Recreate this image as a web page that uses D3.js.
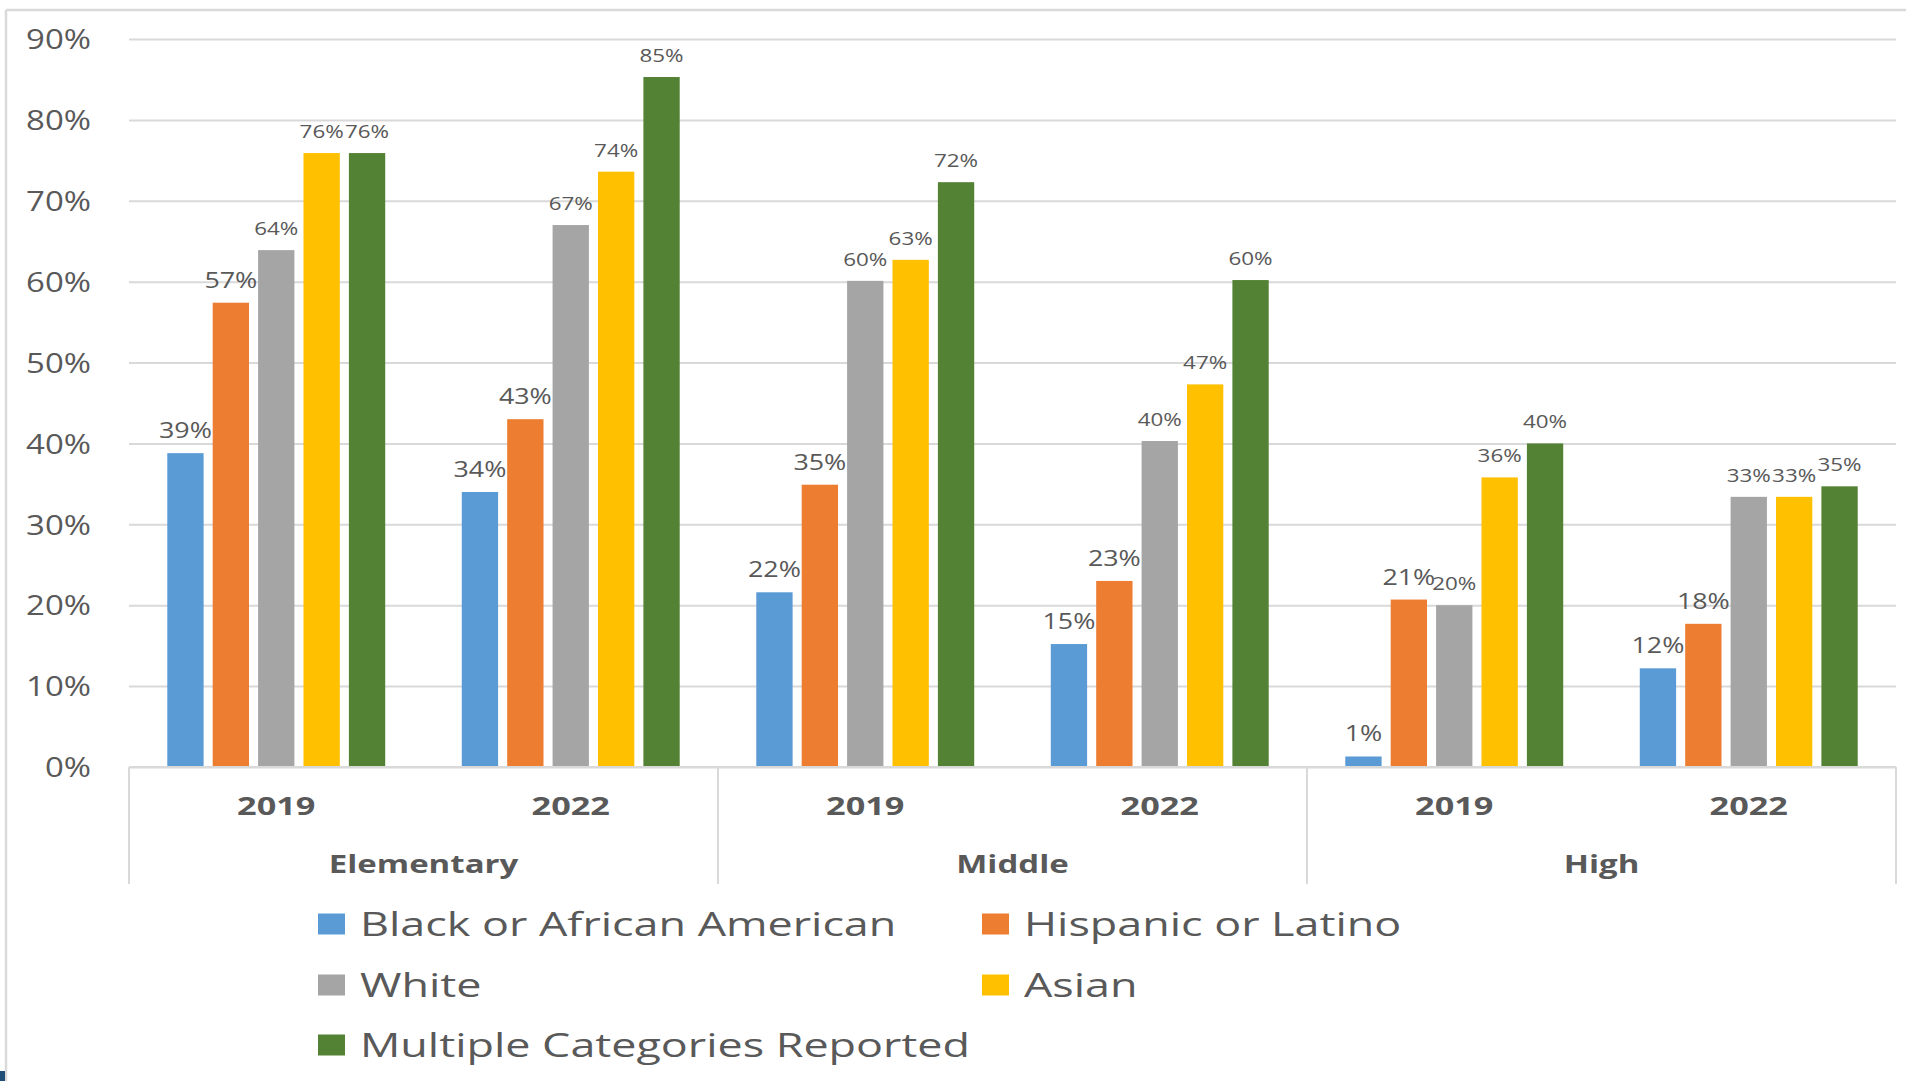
<!DOCTYPE html>
<html><head><meta charset="utf-8">
<script src="https://cdn.jsdelivr.net/npm/d3@7"></script>
<style>
body{margin:0;background:#fff}
svg{display:block}
text{font-family:"Open Sans",sans-serif;fill:#595959}
</style>
</head><body>
<svg id="c" width="1906" height="1081"></svg>
<script>
const levels = ["Elementary", "Middle", "High"];
const years = ["2019", "2022"];
const seriesNames = ["Black or African American", "Hispanic or Latino", "White", "Asian", "Multiple Categories Reported"];
// values in order: Elem 2019, Elem 2022, Mid 2019, Mid 2022, High 2019, High 2022
const black    = [38.8, 34.0, 21.6, 15.2, 1.3, 12.2];
const hispanic = [57.4, 43.0, 34.9, 23.0, 20.7, 17.7];
const white    = [63.9, 67.0, 60.1, 40.3, 20.0, 33.4];
const asian    = [75.9, 73.6, 62.7, 47.3, 35.8, 33.4];
const multiple = [75.9, 85.3, 72.3, 60.2, 40.0, 34.7];
const yTicks = [0, 10, 20, 30, 40, 50, 60, 70, 80, 90];
const colors = ["#5b9bd5", "#ed7d31", "#a5a5a5", "#ffc000", "#548235"];

(function () {
const seriesValues = [black, hispanic, white, asian, multiple];
const categories = levels.flatMap(l => years.map(y => ({level: l, year: y, key: l + " " + y})));

const svg = d3.select("#c");
const pl = 129, pr = 1896, pt = 39, pb = 767;
const grid = "#d9d9d9";

// frame
svg.append("line").attr("x1", 6).attr("x2", 1906).attr("y1", 10).attr("y2", 10).attr("stroke", grid).attr("stroke-width", 2.5);
svg.append("line").attr("x1", 6).attr("x2", 6).attr("y1", 10).attr("y2", 1081).attr("stroke", grid).attr("stroke-width", 2.5);
svg.append("rect").attr("x", 0).attr("y", 1071).attr("width", 5).attr("height", 10).attr("fill", "#1f4e79");

const y = d3.scaleLinear().domain([0, 90]).range([pb, pt]);
const x0 = d3.scaleBand().domain(categories.map(d => d.key)).range([pl, pr]).paddingInner(0.26).paddingOuter(0.13);
const x1 = d3.scaleBand().domain(d3.range(seriesNames.length)).range([0, x0.bandwidth()]).paddingInner(0.2);
const xl = d3.scaleBand().domain(levels).range([pl, pr]);
const xc = d3.scaleBand().domain(categories.map(d => d.key)).range([pl, pr]);

// gridlines
const gridG = svg.append("g").attr("transform", `translate(${pl},0)`)
  .call(d3.axisLeft(y).tickValues(yTicks).tickSize(-(pr - pl)).tickFormat(""));
gridG.select(".domain").remove();
gridG.selectAll("line").attr("stroke", grid).attr("stroke-width", 2);

// y labels
const yAx = svg.append("g").attr("transform", "translate(91,0)")
  .call(d3.axisLeft(y).tickValues(yTicks).tickSize(0).tickPadding(0).tickFormat(d => d + "%"));
yAx.select(".domain").remove();
yAx.selectAll("text").attr("x", 0).attr("dy", "0.36em").attr("text-anchor", "end")
  .style("font-size", "27px").style("font-family", '"Open Sans",sans-serif').attr("fill", "#595959")
  .attr("transform", "scale(1.22,1)");

// bars
const catG = svg.append("g").selectAll("g").data(categories).join("g")
  .attr("transform", d => `translate(${x0(d.key)},0)`);
catG.each(function (c, ci) {
  const g = d3.select(this);
  seriesValues.forEach((vals, si) => {
    const v = vals[ci];
    g.append("rect").attr("x", x1(si)).attr("width", x1.bandwidth())
      .attr("y", y(v)).attr("height", y(0) - y(v)).attr("fill", colors[si]);
    const big = si < 2;
    g.append("g").attr("transform", `translate(${x1(si) + x1.bandwidth() / 2},${y(v) - 15}) scale(1.28,1)`)
      .append("text").attr("text-anchor", "middle")
      .style("font-size", big ? "21px" : "17.5px")
      .text(Math.round(v) + "%");
  });
});

// x axis baseline and separators
svg.append("line").attr("x1", pl).attr("x2", pr).attr("y1", y(0)).attr("y2", y(0)).attr("stroke", grid).attr("stroke-width", 2);
const seps = levels.map(l => xl(l)).concat([pr]);
svg.append("g").selectAll("line").data(seps).join("line")
  .attr("x1", d => d).attr("x2", d => d).attr("y1", y(0)).attr("y2", 884)
  .attr("stroke", grid).attr("stroke-width", 2);

// year labels
svg.append("g").selectAll("g").data(categories).join("g")
  .attr("transform", d => `translate(${xc(d.key) + xc.bandwidth() / 2},815) scale(1.37,1)`)
  .append("text").attr("text-anchor", "middle").style("font-size", "25px").style("font-weight", 700)
  .text(d => d.year);

// level labels
svg.append("g").selectAll("g").data(levels).join("g")
  .attr("transform", d => `translate(${xl(d) + xl.bandwidth() / 2},873) scale(1.32,1)`)
  .append("text").attr("text-anchor", "middle").style("font-size", "25px").style("font-weight", 700)
  .text(d => d);

// legend
const legPos = [[318, 924], [982, 924], [318, 985], [982, 985], [318, 1045]];
const leg = svg.append("g").selectAll("g").data(seriesNames).join("g")
  .attr("transform", (d, i) => `translate(${legPos[i][0]},${legPos[i][1]})`);
leg.append("rect").attr("x", 0).attr("y", -10.5).attr("width", 27).attr("height", 21).attr("fill", (d, i) => colors[i]);
leg.append("g").attr("transform", "translate(42,12) scale(1.36,1)")
  .append("text").style("font-size", "33px").text(d => d);
})();
</script>
</body></html>
